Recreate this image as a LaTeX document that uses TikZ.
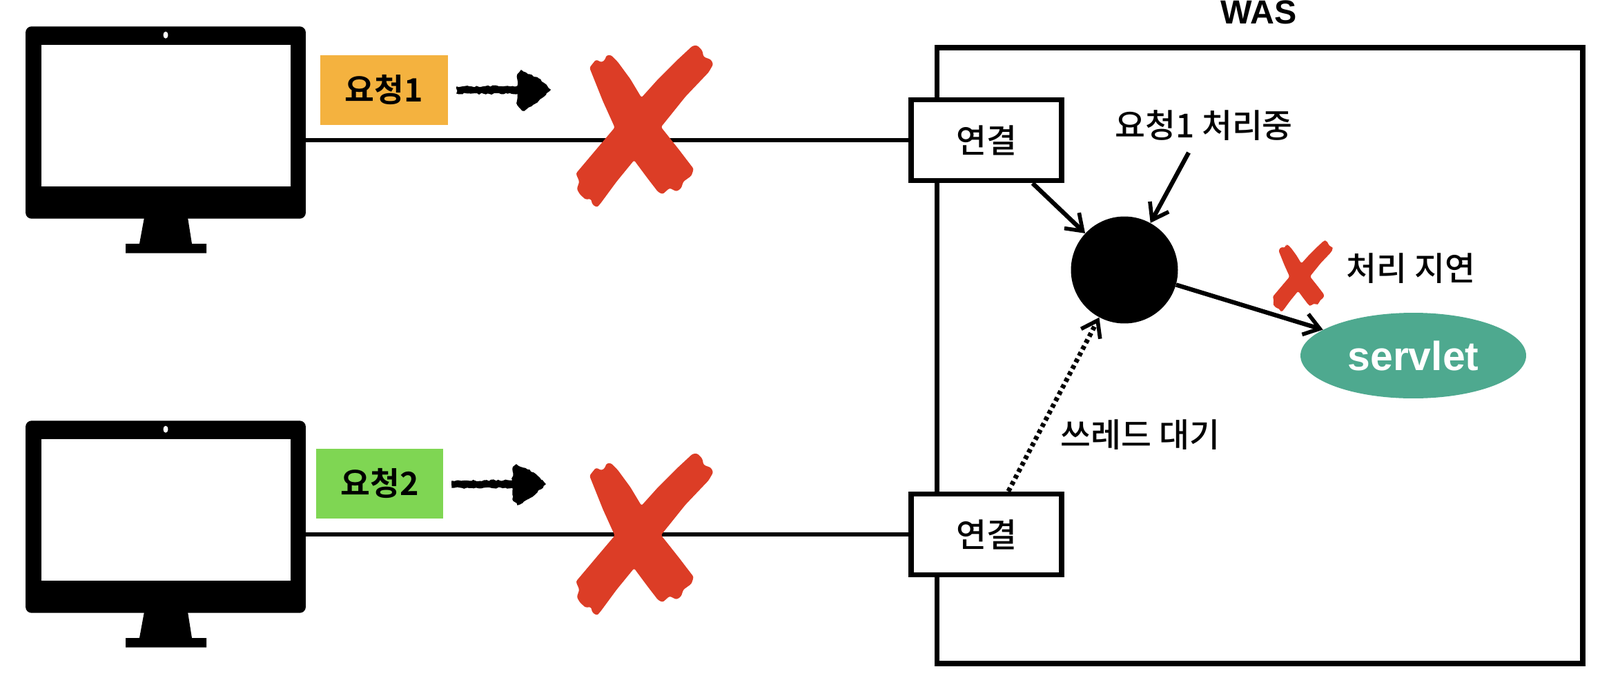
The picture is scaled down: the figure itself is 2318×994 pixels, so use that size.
\documentclass[tikz,border=0pt]{standalone}
\usepackage{fontspec}
\setmainfont{Liberation Sans}
\newfontfamily\krfont{Noto Sans CJK KR Medium}
\newfontfamily\krboldfont{Noto Sans CJK KR Bold}
\usetikzlibrary{arrows.meta,decorations.pathmorphing,shapes.geometric}
\definecolor{xred}{HTML}{DC3D26}
\definecolor{reqorange}{HTML}{F4B23F}
\definecolor{reqgreen}{HTML}{7FD653}
\definecolor{servletgreen}{HTML}{4EA98F}
\begin{document}
\begin{tikzpicture}[x=0.02cm,y=-0.02cm,
krtext/.style={font=\krfont\fontsize{27.2}{30}\selectfont,inner sep=0pt},
monitorbody/.style={fill=black,rounded corners=5pt,minimum width=8.12cm,minimum height=5.57cm,inner sep=0pt},
monitorscreen/.style={fill=white,minimum width=7.22cm,minimum height=4.1cm,inner sep=0pt},
reqbox/.style={font=\krboldfont\fontsize{26.5}{30}\selectfont,inner sep=0pt,minimum width=3.7cm,minimum height=2.02cm},
connbox/.style={krtext,draw=black,fill=white,line width=4.5pt,minimum width=4.36cm,minimum height=2.34cm},
wire/.style={draw=black,line width=3.4pt},
flow/.style={draw=black,line width=3.6pt,-{Straight Barb[length=0.44cm,width=0.62cm,line width=3.2pt]}},
scribble/.style={fill=black,draw=black,line width=0.8pt,decorate,decoration={random steps,segment length=2pt,amplitude=0.7pt}},
pics/redcross/.style={code={\fill[xred,x=0.00667cm,y=-0.00667cm,shift={(-432,-400)},rounded corners=1.5pt] (222,145) -- (250,110) -- (275,122) -- (290,110) -- (295,92) -- (315,90) -- (345,120) -- (400,195) -- (448,275) -- (520,195) -- (600,115) -- (670,50) -- (690,48) -- (712,70) -- (718,98) -- (750,110) -- (760,130) -- (740,165) -- (640,270) -- (533,403) -- (610,500) -- (675,585) -- (665,615) -- (630,640) -- (620,670) -- (600,683) -- (570,668) -- (540,695) -- (520,685) -- (470,620) -- (416,547) -- (340,640) -- (270,735) -- (255,752) -- (235,740) -- (228,715) -- (205,718) -- (180,695) -- (167,672) -- (178,640) -- (163,605) -- (260,490) -- (332,405) -- (280,290) -- (240,190) -- cycle;}}]
\useasboundingbox (0,0) rectangle (2318,994);
\node[font=\bfseries\fontsize{27.5}{30}\selectfont,inner sep=0pt] (wastitle) at (1824,18) {WAS};
\draw[line width=4.5pt] (1357.5,69) rectangle (2293,961);
\begin{scope}
\node[monitorbody] (monitor1) at (240,177.5) {};\node[monitorscreen] (screen1) at (240.5,167.2) {};\fill[white] (240,50.7) ellipse (3.5 and 5);\fill[black] (209,315) -- (272,315) -- (278,353) -- (299,353) -- (299,366.7) -- (182,366.7) -- (182,353) -- (202,353) -- cycle;
\node[reqbox,fill=reqorange] (req1) at (556.5,130.5) {요청1};
\fill[scribble] (662,126) -- (750,125) -- (750,108) -- (755,102) -- (780,114) -- (797,130) -- (778,148) -- (757,160) -- (750,152) -- (750,135) -- (662,135) -- cycle;
\end{scope}
\begin{scope}[shift={(0,571)}]
\node[monitorbody] (monitor2) at (240,177.5) {};\node[monitorscreen] (screen2) at (240.5,167.2) {};\fill[white] (240,50.7) ellipse (3.5 and 5);\fill[black] (209,315) -- (272,315) -- (278,353) -- (299,353) -- (299,366.7) -- (182,366.7) -- (182,353) -- (202,353) -- cycle;
\node[reqbox,fill=reqgreen] (req2) at (550,129) {요청2};
\fill[scribble,shift={(-7,0)}] (662,126) -- (750,125) -- (750,108) -- (755,102) -- (780,114) -- (797,130) -- (778,148) -- (757,160) -- (750,152) -- (750,135) -- (662,135) -- cycle;
\end{scope}
\node[connbox] (conn1) at (1429,203) {연결};
\node[connbox] (conn2) at (1429,774) {연결};
\draw[wire] (conn1.west -| monitor1.east) -- (conn1.west);
\draw[wire] (conn2.west -| monitor2.east) -- (conn2.west);
\pic at (924,183) {redcross};
\pic at (924,774) {redcross};
\node[circle,fill=black,minimum size=3.1cm,inner sep=0pt] (worker) at (1629,391) {};
\node[ellipse,fill=servletgreen,text=white,font=\bfseries\fontsize{33.5}{36}\selectfont,minimum width=6.54cm,minimum height=2.48cm,inner sep=0pt] (servlet) at (2047.5,515) {servlet};
\node[krtext] (busylabel) at (1744,182) {요청1 처리중};
\node[krtext] (delaylabel) at (2044,389) {처리 지연};
\node[krtext] (waitlabel) at (1652,630) {쓰레드 대기};
\coordinate (busytail) at (1722,221);
\draw[flow] (conn1.-43) -- (worker.137);
\draw[flow] (busytail) -- (worker.61.5);
\draw[flow] (worker.-16) -- (servlet.164);
\draw[flow,line width=3.9pt,dash pattern=on 3.2pt off 2.8pt] (conn2.63.4) -- (worker.242);
\pic[scale=0.44] at (1883,400) {redcross};
\end{tikzpicture}
\end{document}
